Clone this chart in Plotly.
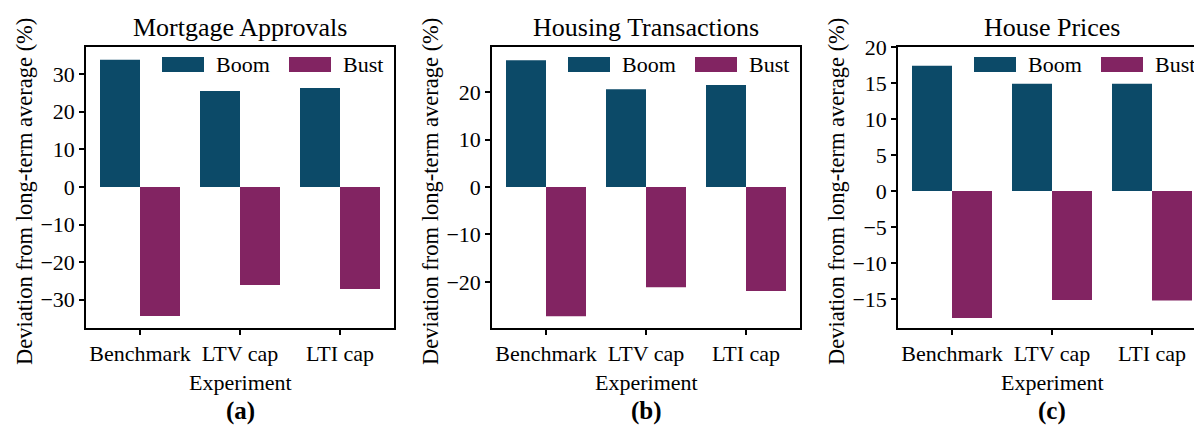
import plotly.graph_objects as go

# datos (% de desviacion respecto al promedio de largo plazo)
categories = ["Benchmark", "LTV cap", "LTI cap"]
panel_titles = ["Mortgage Approvals", "Housing Transactions", "House Prices"]
panel_labels = ["(a)", "(b)", "(c)"]
mortgage_boom = [33.8, 25.5, 26.3]
mortgage_bust = [-34.3, -26.1, -27.1]
transactions_boom = [26.7, 20.6, 21.5]
transactions_bust = [-27.2, -21.1, -21.9]
prices_boom = [17.4, 14.9, 14.9]
prices_bust = [-17.6, -15.1, -15.2]

W, H = 1194, 426
BOOM = "#0c4a68"
BUST = "#822462"
FONT = "Liberation Serif"


def px_x(p):
    return p / W


def px_y(p):
    return 1 - p / H


# posiciones de los paneles en pixeles (izquierda, derecha), rango y y ticks
panels = [
    (mortgage_boom, mortgage_bust, 86, 394, [-37.5, 37.2], 10),
    (transactions_boom, transactions_bust, 492, 800, [-29.7, 29.5], 10),
    (prices_boom, prices_bust, 898, 1194, [-19.0, 20.0], 5),
]

fig = go.Figure()
annotations = []
shapes = []

for i, (boom, bust, left, right, yrange, dtick) in enumerate(panels):
    sfx = "" if i == 0 else str(i + 1)
    fig.add_trace(go.Bar(x=categories, y=boom, name="Boom", marker_color=BOOM,
                         marker_line_width=0, showlegend=False,
                         xaxis="x" + sfx, yaxis="y" + sfx))
    fig.add_trace(go.Bar(x=categories, y=bust, name="Bust", marker_color=BUST,
                         marker_line_width=0, showlegend=False,
                         xaxis="x" + sfx, yaxis="y" + sfx))

    # 100 px por categoria, el ultimo panel queda cortado a la derecha
    xmax = -0.54 + (right - left) / 100
    axis_common = dict(showline=True, linecolor="black", linewidth=1.5,
                       ticks="outside", ticklen=5, tickwidth=1.5, tickcolor="black",
                       showgrid=False, zeroline=False, automargin=False,
                       tickfont=dict(family=FONT, size=22, color="black"))
    fig.layout["xaxis" + sfx] = dict(domain=[px_x(left), px_x(right)], range=[-0.54, xmax],
                                     type="category", anchor="y" + sfx, mirror=True,
                                     **axis_common)
    fig.layout["yaxis" + sfx] = dict(domain=[px_y(328), px_y(47)], range=yrange, dtick=dtick,
                                     anchor="x" + sfx, mirror=(i < 2), **axis_common)

    center = left + 154
    annotations.append(dict(text=panel_titles[i], x=px_x(center), y=px_y(27), xref="paper",
                            yref="paper", showarrow=False, xanchor="center", yanchor="middle",
                            font=dict(family=FONT, size=26, color="black")))
    annotations.append(dict(text="Experiment", x=px_x(center), y=px_y(382), xref="paper",
                            yref="paper", showarrow=False, xanchor="center", yanchor="middle",
                            font=dict(family=FONT, size=22, color="black")))
    annotations.append(dict(text="<b>" + panel_labels[i] + "</b>", x=px_x(center), y=px_y(411),
                            xref="paper", yref="paper", showarrow=False, xanchor="center",
                            yanchor="middle", font=dict(family=FONT, size=25, color="black")))
    annotations.append(dict(text="Deviation from long-term average (%)", x=px_x(left - 62),
                            y=px_y(192), xref="paper", yref="paper", showarrow=False,
                            textangle=-90, xanchor="center", yanchor="middle",
                            font=dict(family=FONT, size=22.5, color="black")))

    # leyenda dentro de cada panel
    for off, name, color in [(76, "Boom", BOOM), (203, "Bust", BUST)]:
        shapes.append(dict(type="rect", xref="paper", yref="paper",
                           x0=px_x(left + off), x1=px_x(left + off + 42),
                           y0=px_y(72), y1=px_y(57), fillcolor=color, line_width=0))
        annotations.append(dict(text=name, x=px_x(left + off + 52), y=px_y(64.5), xref="paper",
                                yref="paper", showarrow=False, xanchor="left", yanchor="middle",
                                font=dict(family=FONT, size=22, color="black")))

fig.update_layout(
    width=W,
    height=H,
    margin=dict(l=0, r=0, t=0, b=0, autoexpand=False),
    barmode="group",
    bargap=0.2,
    bargroupgap=0,
    plot_bgcolor="white",
    paper_bgcolor="white",
    annotations=annotations,
    shapes=shapes,
)

# sin margen del body para que la figura ocupe toda la ventana
fig.write_html("out.html", config={"displayModeBar": False},
               post_script="document.body.style.margin='0';")
